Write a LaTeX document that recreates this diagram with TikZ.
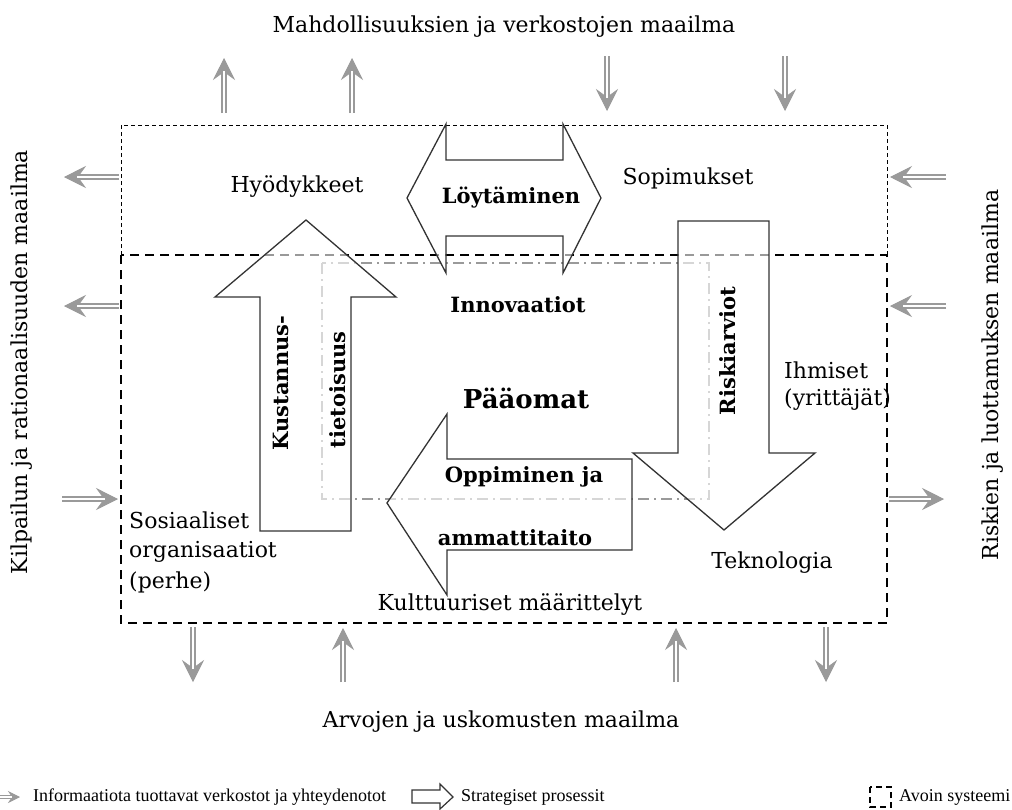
\documentclass[tikz,border=0pt]{standalone}
\usepackage{fontspec}
\setmainfont{DejaVu Serif}
\newfontfamily\legendfont{Liberation Serif}
\usetikzlibrary{arrows.meta}
\definecolor{netgray}{HTML}{9A9A9A}
\definecolor{outline}{HTML}{333333}
\tikzset{
  lbl/.style={font=\fontsize{22}{25}\selectfont, inner sep=0pt},
  blbl/.style={font=\fontsize{21}{24}\selectfont\bfseries, inner sep=0pt},
  leglbl/.style={font=\legendfont\fontsize{18}{21}\selectfont, inner sep=0pt, anchor=west},
  thinbox/.style={draw=black, line width=1pt, dash pattern=on 4pt off 3pt},
  thickbox/.style={draw=black, line width=2.4pt, dash pattern=on 9pt off 6pt},
  dotbox/.style={draw=netgray, line width=1.3pt, dash pattern=on 11pt off 5pt on 2pt off 5pt},
  blockarrow/.style={draw=outline, line width=1.3pt, fill=white, fill opacity=0.6, line join=miter},
  nettip/.style={draw=netgray, line width=0.6pt, -{Stealth[length=22pt,width=22pt,inset=8pt]}},
  netshaft/.style={draw=netgray, double=white, double distance=2.5pt, line width=2pt, shorten >=13pt},
  smalltip/.style={draw=netgray, line width=0.6pt, -{Stealth[length=12pt,width=12pt,inset=4pt]}},
  smallshaft/.style={draw=netgray, double=white, double distance=1.5pt, line width=1.2pt, shorten >=8pt},
}
\newcommand{\netarrow}[2]{\draw[nettip] (#1) -- (#2); \draw[netshaft] (#1) -- (#2);}
\begin{document}
\begin{tikzpicture}[x=1pt,y=-1pt]
\useasboundingbox[fill=white] (0,0) rectangle (1012,809);

% world labels
\node[lbl] (topw) at (504,27) {Mahdollisuuksien ja verkostojen maailma};
\node[lbl] (botw) at (501,722) {Arvojen ja uskomusten maailma};
\node[lbl, rotate=90] (leftw) at (22,362) {Kilpailun ja rationaalisuuden maailma};
\node[lbl, rotate=90] (rightw) at (993,375) {Riskien ja luottamuksen maailma};

% boxes
\draw[thinbox] (121,255) -- (121,125) -- (887,125) -- (887,255);
\draw[dotbox] (322,263) rectangle (709,499);
\draw[thickbox] (121,255) rectangle (887,623);

% network arrows
\coordinate (ta1) at (224,113); \coordinate (tb1) at (224,58);
\coordinate (ta2) at (352,113); \coordinate (tb2) at (352,58);
\coordinate (ta3) at (607,56);  \coordinate (tb3) at (607,111);
\coordinate (ta4) at (785,56);  \coordinate (tb4) at (785,111);
\coordinate (la1) at (119,177); \coordinate (lb1) at (64,177);
\coordinate (la2) at (119,306); \coordinate (lb2) at (64,306);
\coordinate (la3) at (62,499);  \coordinate (lb3) at (118,499);
\coordinate (ra1) at (946,177); \coordinate (rb1) at (890,177);
\coordinate (ra2) at (946,306); \coordinate (rb2) at (890,306);
\coordinate (ra3) at (889,499); \coordinate (rb3) at (944,499);
\coordinate (ba1) at (193,627); \coordinate (bb1) at (193,682);
\coordinate (ba2) at (343,682); \coordinate (bb2) at (343,628);
\coordinate (ba3) at (676,682); \coordinate (bb3) at (676,628);
\coordinate (ba4) at (826,627); \coordinate (bb4) at (826,682);
\netarrow{ta1}{tb1}
\netarrow{ta2}{tb2}
\netarrow{ta3}{tb3}
\netarrow{ta4}{tb4}
\netarrow{la1}{lb1}
\netarrow{la2}{lb2}
\netarrow{la3}{lb3}
\netarrow{ra1}{rb1}
\netarrow{ra2}{rb2}
\netarrow{ra3}{rb3}
\netarrow{ba1}{bb1}
\netarrow{ba2}{bb2}
\netarrow{ba3}{bb3}
\netarrow{ba4}{bb4}

% strategic process arrows
\draw[blockarrow] (446,124) -- (446,160) -- (563,160) -- (563,124) -- (601,198) -- (563,273) -- (563,236) -- (446,236) -- (446,273) -- (407,198) -- cycle;
\draw[blockarrow] (306,220) -- (396,297) -- (351,297) -- (351,531) -- (260,531) -- (260,297) -- (215,297) -- cycle;
\draw[blockarrow] (678,221) -- (769,221) -- (769,453) -- (815,453) -- (724,530) -- (633,453) -- (678,453) -- cycle;
\draw[blockarrow] (387,503) -- (447,414) -- (447,459) -- (632,459) -- (632,550) -- (447,550) -- (447,595) -- cycle;

% process labels
\node[blbl] (loyt) at (511,198) {Löytäminen};
\node[blbl, rotate=90] (kust) at (281,383) {Kustannus-};
\node[blbl, rotate=90] (tiet) at (338,390) {tietoisuus};
\node[blbl, rotate=90] (risk) at (728,351) {Riskiarviot};
\node[blbl] (opp) at (524,477) {Oppiminen ja};
\node[blbl] (amm) at (515,538) {ammattitaito};
\node[blbl] (inno) at (518,305) {Innovaatiot};
\node[font=\fontsize{26}{29}\selectfont\bfseries, inner sep=0pt] (paa) at (526,398) {Pääomat};

% element labels
\node[lbl] (hyod) at (297,187) {Hyödykkeet};
\node[lbl] (sopi) at (688,178) {Sopimukset};
\node[lbl, anchor=west] (ihm1) at (784,370) {Ihmiset};
\node[lbl, anchor=west] (ihm2) at (784,400) {(yrittäjät)};
\node[lbl] (tekn) at (772,563) {Teknologia};
\node[lbl, anchor=west] (sos1) at (129,520) {Sosiaaliset};
\node[lbl, anchor=west] (sos2) at (129,552) {organisaatiot};
\node[lbl, anchor=west] (sos3) at (129,582) {(perhe)};
\node[lbl] (kult) at (510,605) {Kulttuuriset määrittelyt};

% legend
\coordinate (lga) at (-2,797); \coordinate (lgb) at (20,797);
\draw[smalltip] (lga) -- (lgb); \draw[smallshaft] (lga) -- (lgb);
\node[leglbl] (leg1) at (33,797) {Informaatiota tuottavat verkostot ja yhteydenotot};
\draw[draw=outline, line width=1.2pt, line join=miter] (412,790) -- (440,790) -- (440,784) -- (453,797) -- (440,809) -- (440,803) -- (412,803) -- cycle;
\node[leglbl] (leg2) at (461,797) {Strategiset prosessit};
\draw[draw=black, line width=2.4pt, dash pattern=on 6pt off 4pt] (870,787) rectangle (891,807);
\node[leglbl] (leg3) at (899,797) {Avoin systeemi};
\end{tikzpicture}
\end{document}
